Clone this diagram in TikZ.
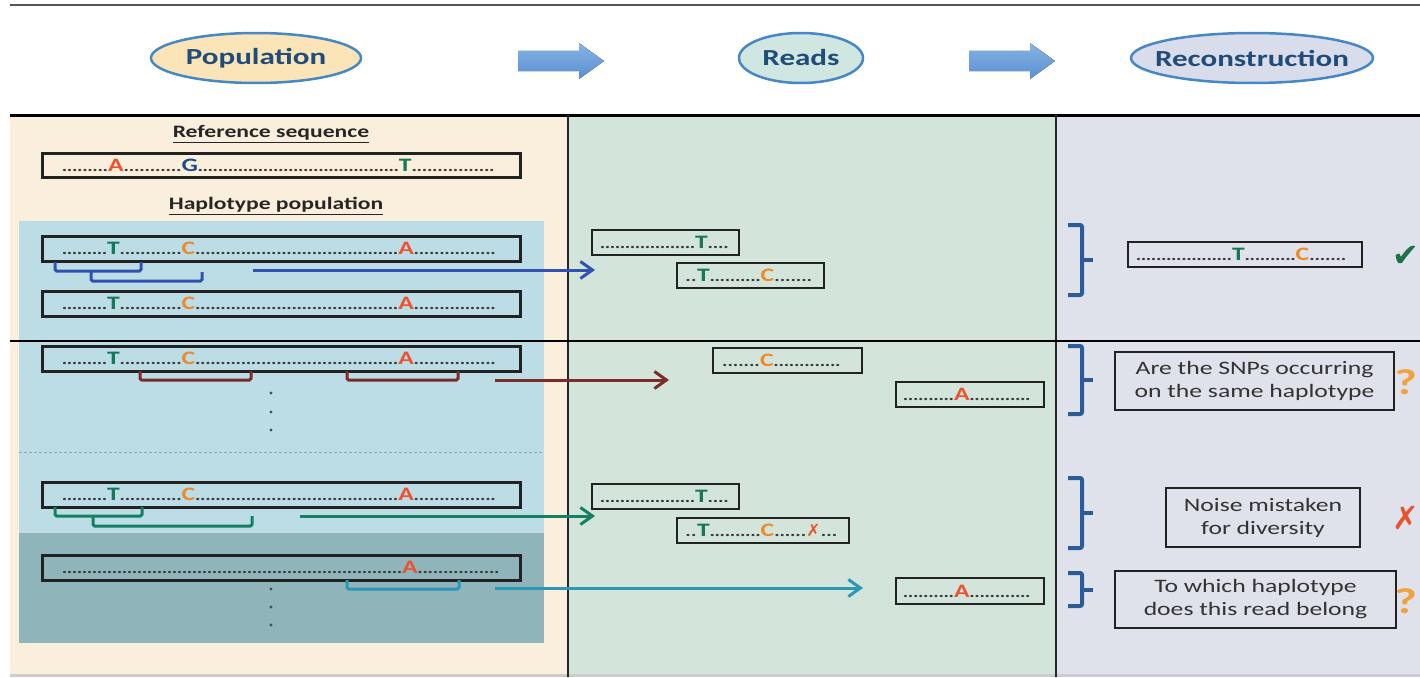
\documentclass[tikz,border=0pt]{standalone}
\usepackage{fontspec}
\setmainfont{Carlito}[FakeStretch=1.35]
\newfontfamily\symfont{DejaVu Sans}
\usetikzlibrary{arrows.meta,shapes.geometric}

% palette
\definecolor{popfill}{HTML}{FBE4B8}
\definecolor{readfill}{HTML}{CFE7E0}
\definecolor{recfill}{HTML}{D9DDEB}
\definecolor{ellblue}{HTML}{4687C6}
\definecolor{navy}{HTML}{1F4C7A}
\definecolor{arrowtop}{HTML}{86B3E4}
\definecolor{arrowbot}{HTML}{5A8FD2}
\definecolor{popbg}{HTML}{F9EFDC}
\definecolor{hapbg}{HTML}{BCDCE6}
\definecolor{hapdark}{HTML}{8FB5BA}
\definecolor{readbg}{HTML}{D3E5DA}
\definecolor{recbg}{HTML}{DFE2EA}
\definecolor{ntA}{HTML}{EE5230}
\definecolor{ntC}{HTML}{EC8A2C}
\definecolor{ntT}{HTML}{17775A}
\definecolor{ntG}{HTML}{1F4B8E}
\definecolor{lnblue}{HTML}{3152B2}
\definecolor{lnbrown}{HTML}{7A2C2A}
\definecolor{lngreen}{HTML}{138064}
\definecolor{lnteal}{HTML}{2B98B6}
\definecolor{bracecol}{HTML}{2B5C98}
\definecolor{boxtext}{HTML}{333333}
\definecolor{seqline}{HTML}{222222}
\definecolor{dotcol}{HTML}{3A3A3A}
\definecolor{okgreen}{HTML}{1D7248}
\definecolor{qorange}{HTML}{F2A23A}
\definecolor{xred}{HTML}{E8522C}
\definecolor{dashgray}{HTML}{8FA9B4}
\definecolor{framegray}{HTML}{555555}

% fonts
\newcommand\hdfont{\fontsize{23}{26}\selectfont\bfseries}
\newcommand\subfont{\fontsize{17.5}{20}\selectfont\bfseries}
\newcommand\seqfont{\fontsize{19}{19}\selectfont\bfseries}
\newcommand\boxfont{\fontsize{19}{23}\selectfont}

% sequence pieces: a run of dots of a given length, and coloured bases
\newcommand{\dts}[1]{\xleaders\hbox to 5pt{\hss{\color{dotcol}\mdseries.}\hss}\hskip #1pt\relax}
\newcommand{\nA}{\textcolor{ntA}{A}}
\newcommand{\nC}{\textcolor{ntC}{C}}
\newcommand{\nG}{\textcolor{ntG}{G}}
\newcommand{\nT}{\textcolor{ntT}{T}}
\newcommand{\nX}{{\symfont\fontsize{17}{17}\selectfont\textcolor{xred}{✗}}}

% boxed sequence: style, name, x0, y0, x1, y1, content
\newcommand{\seqnode}[7]{%
  \node[#1, minimum width={(#5-#3)*1pt}, minimum height={(#6-#4)*1pt}]
    (#2) at ({(#3+#5)/2},{(#4+#6)/2}) {\hbox to \dimexpr #5pt-#3pt\relax{#7\hss}};}

\newcommand{\hapseq}{\hskip20pt\dts{45}\nT\dts{62}\nC\dts{203}\nA\dts{82}}
\newcommand{\readT}{\hskip8pt\dts{95}\nT\dts{21}}
\newcommand{\readA}{\hskip7pt\dts{51}\nA\dts{61}}

% block arrow between the phase labels, given its left end x
\newcommand{\flowarrow}[1]{%
  \fill[top color=arrowtop, bottom color=arrowbot]
    (#1,51) -- ++(61,0) -- ++(0,-8) -- ++(25,18) -- ++(-25,18) -- ++(0,-8) -- ++(-61,0) -- cycle;}

\tikzset{
  phase/.style={ellipse, draw=ellblue, line width=2.5pt, inner sep=0pt,
    minimum height=50pt, font=\hdfont, text=navy},
  hapbox/.style={draw=seqline, line width=3pt, inner sep=0pt, font=\seqfont},
  readbox/.style={draw=seqline, line width=2.4pt, inner sep=0pt, font=\seqfont},
  notebox/.style={draw=seqline, line width=2pt, inner sep=0pt, align=center,
    font=\boxfont, text=boxtext},
  bracket/.style={line width=3pt, rounded corners=1.5pt},
  conn/.style={line width=3pt, -{Straight Barb[length=12pt,width=17pt,line width=3pt]}},
  bracestyle/.style={draw=bracecol, line width=4pt, rounded corners=2pt},
  vdot/.style={fill=black!70},
  verdict/.style={anchor=east, inner sep=0pt},
}

\begin{document}
\begin{tikzpicture}[x=1pt,y=-1pt]
\useasboundingbox (0,0) rectangle (1420,677);
\clip (0,0) rectangle (1420,677);
\fill[white] (0,0) rectangle (1420,677);

% column backgrounds
\fill[popbg] (10,115) rectangle (568,677);
\fill[readbg] (568,115) rectangle (1056,677);
\fill[recbg] (1056,115) rectangle (1420,677);
\fill[hapbg] (19,221) rectangle (544,533);
\fill[hapdark] (19,533) rectangle (544,643);
\draw[dashgray, line width=1pt, dash pattern=on 3pt off 2pt] (19,452) -- (544,452);
\fill[black!20] (10,674) rectangle (1420,677);

% frame
\draw[framegray, line width=2.5pt] (10,5) -- (1420,5);
\draw[black, line width=3pt] (10,115) -- (1420,115);
\draw[black!85, line width=2pt] (568,115) -- (568,677);
\draw[black!85, line width=2.5pt] (1056,115) -- (1056,677);

% header
\node[phase, fill=popfill, minimum width=210pt] (pop) at (256,58) {Population};
\node[phase, fill=readfill, minimum width=124pt] (reads) at (801,58) {Reads};
\node[phase, fill=recfill, minimum width=242pt, inner xsep=-12pt] (rec) at (1252,58) {Reconstruction};
\flowarrow{518}
\flowarrow{969}

% population column
\node[font=\subfont, text=black!85] (refhead) at (271,134) {\underline{Reference sequence}};
\seqnode{hapbox}{ref}{42}{153}{520}{177}{\hskip20pt\dts{46}\nA\dts{58}\nG\dts{201}\nT\dts{83}}
\node[font=\subfont, text=black!85] (haphead) at (276,206) {\underline{Haplotype population}};

\seqnode{hapbox}{hap1}{42}{236}{520}{261}{\hapseq}
\seqnode{hapbox}{hap2}{42}{291}{520}{316}{\hapseq}
\seqnode{hapbox}{hap3}{42}{346}{520}{371}{\hapseq}
\seqnode{hapbox}{hap4}{42}{482}{520}{507}{\hapseq}
\seqnode{hapbox}{hap5}{42}{555}{520}{580}{\hskip20pt\dts{340}\nA\dts{82}}

\foreach \yy in {393,412,430,589,607,625}
  \fill[vdot] (271,\yy) circle (1.6pt);

% read windows under the haplotypes
\draw[bracket, lnblue] (55,262) -- (55,271) -- (141,271) -- (141,262);
\draw[bracket, lnblue] (91,271) -- (91,281) -- (202,281) -- (202,272);
\draw[bracket, lnbrown] (140,371) -- (140,380) -- (251,380) -- (251,371);
\draw[bracket, lnbrown] (347,371) -- (347,380) -- (458,380) -- (458,371);
\draw[bracket, lngreen] (55,507) -- (55,516) -- (142,516) -- (142,507);
\draw[bracket, lngreen] (93,516) -- (93,526) -- (252,526) -- (252,516);
\draw[bracket, lnteal] (347,580) -- (347,589) -- (459,589) -- (459,580);

% reads column
\seqnode{readbox}{r1}{592}{230}{739}{255}{\readT}
\seqnode{readbox}{r2}{677}{263}{824}{288}{\hskip8pt\dts{12}\nT\dts{51}\nC\dts{38}}
\seqnode{readbox}{r3}{713}{348}{862}{373}{\hskip9pt\dts{38}\nC\dts{67}}
\seqnode{readbox}{r4}{896}{382}{1044}{407}{\readA}
\seqnode{readbox}{r5}{592}{484}{739}{509}{\readT}
\seqnode{readbox}{r6}{677}{518}{849}{543}{\hskip8pt\dts{12}\nT\dts{51}\nC\dts{32}\nX\dts{17}}
\seqnode{readbox}{r7}{896}{578}{1044}{604}{\readA}

% sampling connectors
\coordinate (s1) at (253,270);  \coordinate (e1) at (595,270);
\coordinate (s2) at (495,380);  \coordinate (e2) at (669,380);
\coordinate (s3) at (300,516);  \coordinate (e3) at (595,516);
\coordinate (s4) at (495,588);  \coordinate (e4) at (863,588);
\draw[conn, lnblue] (s1) -- (e1);
\draw[conn, lnbrown] (s2) -- (e2);
\draw[conn, lngreen] (s3) -- (e3);
\draw[conn, lnteal] (s4) -- (e4);

% reconstruction column
\foreach \t/\m/\b in {225/260/295, 346/380/414, 478/513/548, 573/590/606}{
  \draw[bracestyle] (1068,\t) -- (1082,\t) -- (1082,\b) -- (1068,\b);
  \draw[bracestyle] (1082,\m) -- (1093,\m);
}
\seqnode{readbox}{rc1}{1128}{242}{1362}{267}{\hskip8pt\dts{96}\nT\dts{51}\nC\dts{37}}
\node[notebox, minimum width=279pt, minimum height=58pt] (note1) at (1254.5,381)
  {Are the SNPs occurring\\on the same haplotype};
\node[notebox, minimum width=194pt, minimum height=59pt] (note2) at (1263,517.5)
  {Noise mistaken\\for diversity};
\node[notebox, minimum width=281pt, minimum height=57pt] (note3) at (1255.5,599.5)
  {To which haplotype\\does this read belong};

\node[verdict, text=okgreen, font=\symfont\fontsize{32}{32}\selectfont] (ok) at (1419,256) {✔};
\node[verdict, text=qorange, font=\fontsize{36}{36}\selectfont\bfseries] (ask1) at (1417,382) {?};
\node[verdict, text=xred, font=\symfont\fontsize{32}{32}\selectfont] (bad) at (1419,518) {✗};
\node[verdict, text=qorange, font=\fontsize{36}{36}\selectfont\bfseries] (ask2) at (1417,601) {?};

% divider between the two scenarios
\draw[black, line width=2.5pt] (10,341) -- (1420,341);
\end{tikzpicture}
\end{document}
